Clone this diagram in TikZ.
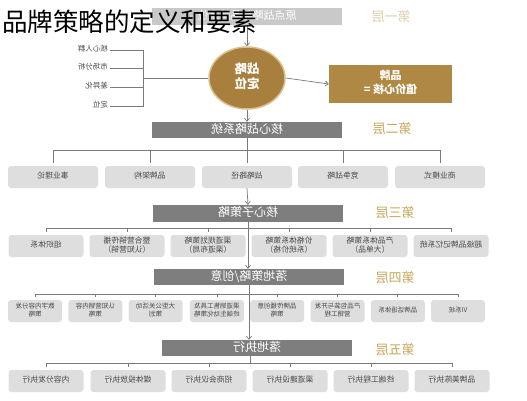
\documentclass[tikz,border=0pt]{standalone}
\usepackage{fontspec}
\setmainfont{Noto Sans CJK SC}
\usepackage{graphicx}
\usetikzlibrary{arrows.meta,shapes.geometric}
\definecolor{laygray}{HTML}{7E7E7E}
\definecolor{topgray}{HTML}{C9C9C9}
\definecolor{subgray}{HTML}{DEDEDE}
\definecolor{txtgray}{HTML}{4A4A4A}
\definecolor{linegray}{HTML}{7A7A7A}
\definecolor{goldfill}{HTML}{A97F3D}
\definecolor{goldring}{HTML}{D9C08C}
\definecolor{pinfill}{HTML}{AF8843}
\definecolor{lblgold}{HTML}{C7A75C}
\definecolor{lblpale}{HTML}{DCCFAE}
\newcommand\mir[1]{\reflectbox{\begin{tabular}{@{}c@{}}#1\end{tabular}}}
\begin{document}
\begin{tikzpicture}[x=1pt,y=-1pt,
  laybox/.style={fill=laygray,text=white,minimum width=190,minimum height=16,inner sep=0,font=\fontsize{12}{12}\selectfont},
  subbox/.style={fill=subgray,rounded corners=3,text=txtgray,minimum height=22,inner sep=0,font=\fontsize{7.8}{9.5}\selectfont},
  smallbox/.style={subbox,minimum width=54,font=\fontsize{6.5}{8}\selectfont},
  lbl/.style={font=\fontsize{13}{13}\selectfont,text=lblgold},
  item/.style={font=\fontsize{7.5}{8}\selectfont,text=txtgray,inner sep=2,anchor=east},
  con/.style={draw=linegray,line width=0.7},
  arr/.style={con,-{Straight Barb[length=3,width=5]}}]
\useasboundingbox (0,0) rectangle (527,400);
\fill[white] (0,0) rectangle (527,400);

% ---------- layer 1
\node[fill=topgray,text=white,minimum width=190,minimum height=17,inner sep=0,font=\fontsize{11}{11}\selectfont] (top) at (247,16.5) {\mir{原点战略与品牌定位}};
\node[lbl,text=lblpale] (lab1) at (391,18) {\mir{第一层}};
\node[ellipse,fill=goldfill,draw=goldring,line width=1.5,minimum width=76,minimum height=62,inner sep=0,text=white,font=\fontsize{12.5}{15}\selectfont\bfseries] (ell) at (247,78) {\mir{战略\\定位}};
\node[fill=pinfill,minimum width=123,minimum height=38,inner sep=0,text=white,font=\fontsize{11}{14}\selectfont\bfseries] (pin) at (390.5,84) {\mir{品牌\\值价心核 =}};
\node[item] (i1) at (110,50) {\mir{核心人群}};
\node[item] (i2) at (110,68) {\mir{市场分析}};
\node[item] (i3) at (110,87) {\mir{差异化}};
\node[item] (i4) at (110,106) {\mir{定位}};
\coordinate (bk) at (143,78);
\draw[con] (i1.east) -| (bk);
\draw[con] (i4.east) -| (bk);
\draw[con] (i2.east) -- (i2.east -| bk);
\draw[con] (i3.east) -- (i3.east -| bk);
\draw[con] (bk) -- (ell.west);
\draw[arr] (top.south) -- (ell.north);
\draw[arr] (ell.east) -- (pin.west);

% ---------- layer 2
\node[laybox] (L2) at (247,130) {\mir{核心战略系统}};
\node[lbl] (lab2) at (392,130) {\mir{第二层}};
\draw[arr] (ell.south) -- (L2.north);
\foreach \i/\x/\t in {1/53/事业理论,2/150/品牌架构,3/247/战略路径,4/343/竞争战略,5/440/商业模式}{
  \node[subbox,minimum width=90] (s2\i) at (\x,177) {\mir{\t}};
}
\coordinate (bus2) at (0,150);
\draw[con] (s21.north |- bus2) -- (s25.north |- bus2);
\foreach \i in {1,2,4,5}{\draw[con] (s2\i.north |- bus2) -- ([yshift=3pt]s2\i.north);}
\draw[con] (L2.south) -- ([yshift=3pt]s23.north);

% ---------- layer 3
\node[laybox,minimum height=17] (L3) at (248,213.5) {\mir{核心子策略}};
\node[lbl] (lab3) at (395,214) {\mir{第三层}};
\draw[arr] (s23.south) -- (L3.north);
\foreach \i/\x/\t in {1/46/组织体系,2/127/整合营销传播\\（认知营销）,3/208/渠道规划策略\\（渠道布局）,4/289/价格体系策略\\（系统价格）,5/370/产品体系策略\\（大单品）,6/451/超级品牌记忆系统}{
  \node[subbox,minimum width=75] (s3\i) at (\x,246) {\mir{\t}};
}
\coordinate (bus3) at (0,228);
\draw[con] (s31.north |- bus3) -- (s36.north |- bus3);
\foreach \i in {1,...,6}{\draw[con] (s3\i.north |- bus3) -- ([yshift=3pt]s3\i.north);}

% ---------- layer 4
\node[laybox] (L4) at (249,277) {\mir{落地策略/创意}};
\node[lbl] (lab4) at (395,279) {\mir{第四层}};
\draw[arr] (L3.south) -- (L3.south |- L4.north);
\foreach \i/\x/\t in {1/35/数字内容分发\\策略,2/95.3/认知营销内容\\策略,3/155.6/大型公关活动\\策划,4/216.9/渠道销售工具及\\终端生动化策略,5/277.2/品牌传播创意\\策略,6/337.5/产品包装与开发\\营销工程,7/397.8/品牌话语体系,8/458/VI系统}{
  \node[smallbox] (s4\i) at (\x,311) {\mir{\t}};
}
\coordinate (bus4) at (0,294);
\draw[con] (s41.north |- bus4) -- (s48.north |- bus4);
\foreach \i in {1,...,8}{\draw[con] (s4\i.north |- bus4) -- ([yshift=3pt]s4\i.north);}

% ---------- layer 5
\node[laybox] (L5) at (257,348) {\mir{落地执行}};
\node[lbl] (lab5) at (395,351) {\mir{第五层}};
\draw[arr] (L4.south) -- (L4.south |- L5.north);
\foreach \i/\x/\t in {1/46/内容分发执行,2/128/媒体投放执行,3/209/招商会议执行,4/290/渠道建设执行,5/371/终端工程执行,6/452/品牌美陈执行}{
  \node[subbox,minimum width=75] (s5\i) at (\x,381) {\mir{\t}};
}
\coordinate (bus5) at (0,363);
\coordinate (c5) at (250,356);
\draw[con] (c5) -- (c5 |- bus5);
\draw[con] (s51.north |- bus5) -- (s56.north |- bus5);
\foreach \i in {1,...,6}{\draw[con] (s5\i.north |- bus5) -- ([yshift=3pt]s5\i.north);}

% ---------- title (unmirrored overlay)
\node[anchor=base west,inner sep=0,font=\fontsize{25.5}{25.5}\selectfont] (title) at (2,31) {品牌策略的定义和要素};
\end{tikzpicture}
\end{document}
